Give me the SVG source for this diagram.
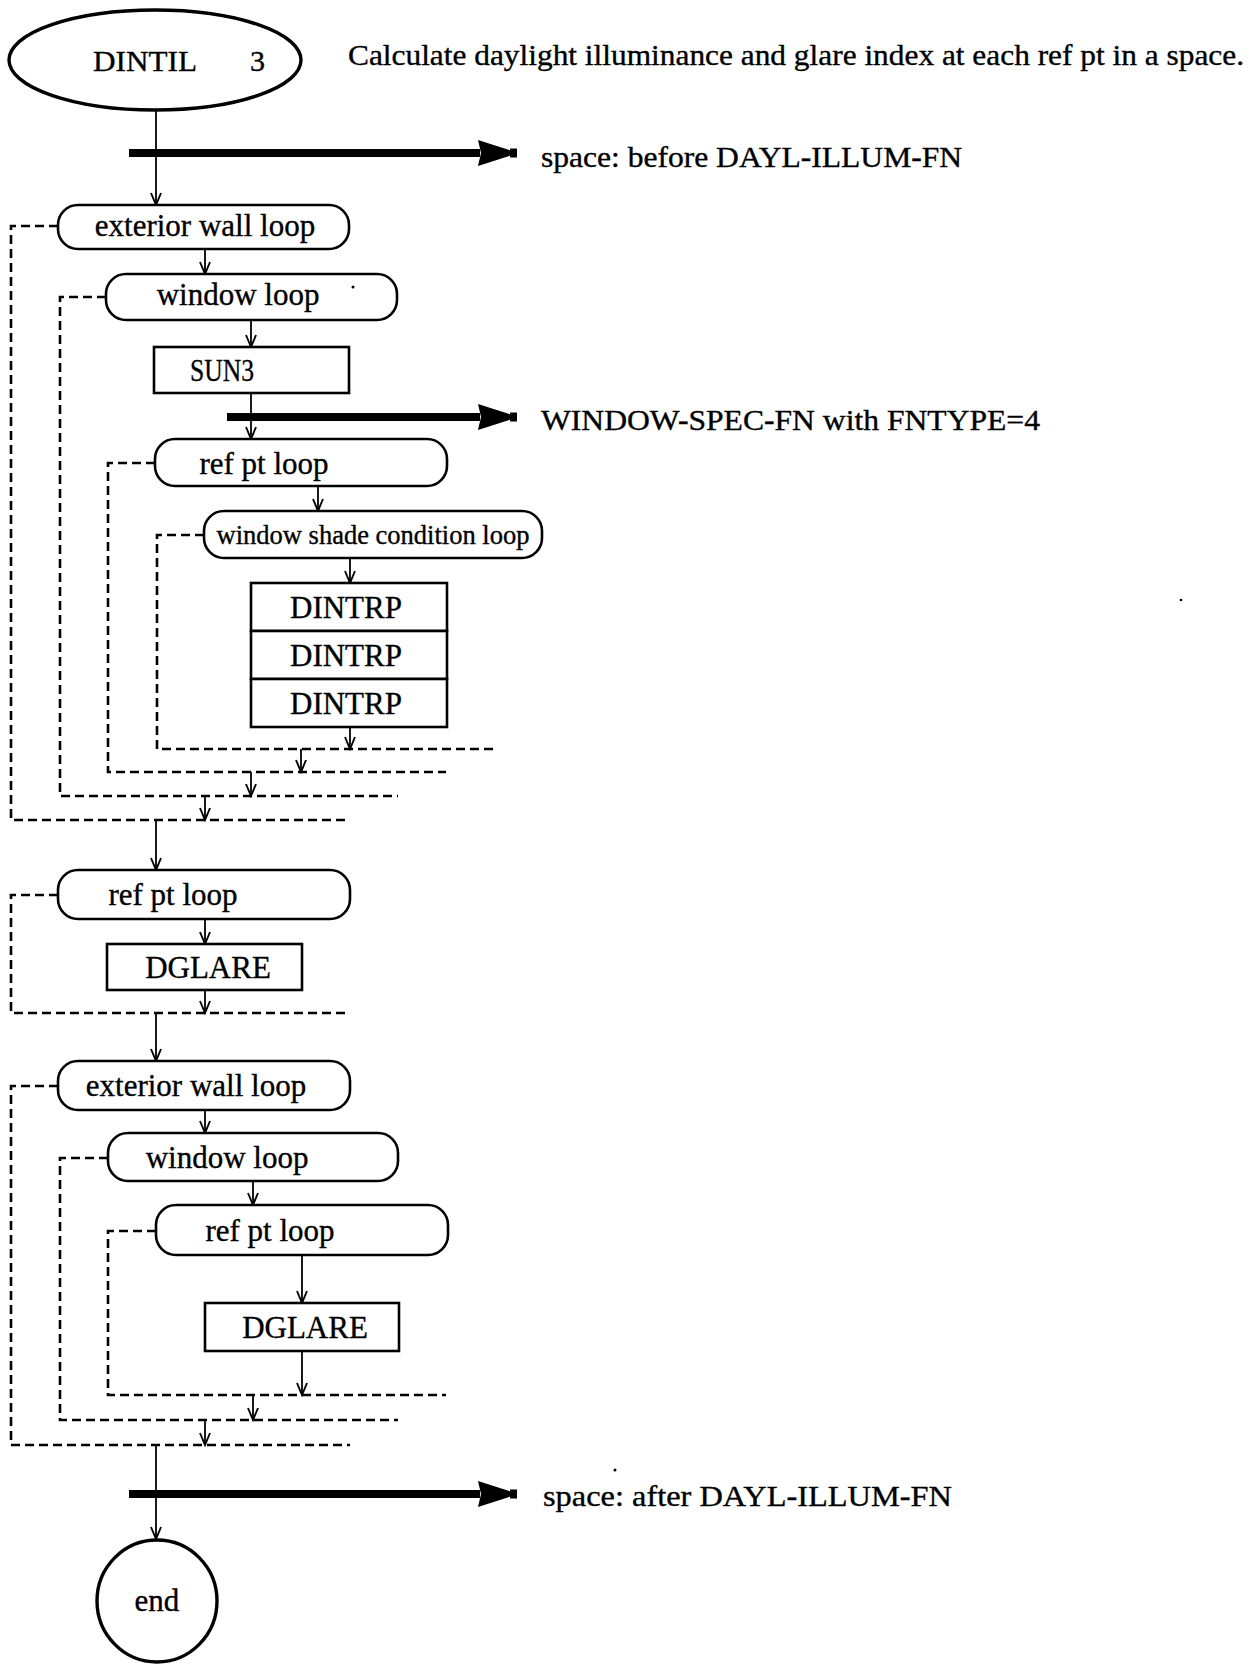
<svg xmlns="http://www.w3.org/2000/svg" width="1251" height="1664" viewBox="0 0 1251 1664">
<style>
text{font-family:"Liberation Serif","Times New Roman",serif;fill:#000;stroke:#000;stroke-width:0.35}
.lbl{font-size:31px;text-anchor:middle}
.sm{font-size:26.5px;text-anchor:middle}
.side{font-size:30px}
.node{fill:#fff;stroke:#000;stroke-width:2.6}
.term{fill:#fff;stroke:#000;stroke-width:3.4}
.dash{fill:none;stroke:#000;stroke-width:2.6;stroke-dasharray:9 5}
.flow{fill:none;stroke:#000;stroke-width:1.8}
.thick{fill:none;stroke:#000;stroke-width:8}
</style>
<defs>
<marker id="ah" viewBox="-14 -7 16 14" refX="0" refY="0" markerWidth="16" markerHeight="14" markerUnits="userSpaceOnUse" orient="auto">
<path d="M-12,-5 L0,0 L-12,5" fill="none" stroke="#000" stroke-width="1.9"/>
</marker>
<marker id="big" viewBox="0 -14 42 28" refX="2" refY="0" markerWidth="42" markerHeight="28" markerUnits="userSpaceOnUse" orient="auto">
<path d="M0,-13 L34,-2 L34,2 L0,13 L3,0 Z" fill="#000"/>
<rect x="32" y="-4.5" width="7" height="9" fill="#000"/>
</marker>
</defs>

<g id="connectors">
<path class="flow" d="M156,110 V205" marker-end="url(#ah)"/>
<path class="flow" d="M205,249 V274" marker-end="url(#ah)"/>
<path class="flow" d="M251,320 V347" marker-end="url(#ah)"/>
<path class="flow" d="M251,393 V439" marker-end="url(#ah)"/>
<path class="flow" d="M318,486 V511" marker-end="url(#ah)"/>
<path class="flow" d="M350,558 V583" marker-end="url(#ah)"/>
<path class="flow" d="M350,727 V749" marker-end="url(#ah)"/>
<path class="flow" d="M301,749 V772" marker-end="url(#ah)"/>
<path class="flow" d="M251,772 V796" marker-end="url(#ah)"/>
<path class="flow" d="M205,796 V820" marker-end="url(#ah)"/>
<path class="flow" d="M156,820 V870" marker-end="url(#ah)"/>
<path class="flow" d="M205,919 V944" marker-end="url(#ah)"/>
<path class="flow" d="M205,990 V1013" marker-end="url(#ah)"/>
<path class="flow" d="M156,1013 V1061" marker-end="url(#ah)"/>
<path class="flow" d="M205,1110 V1133" marker-end="url(#ah)"/>
<path class="flow" d="M253,1181 V1205" marker-end="url(#ah)"/>
<path class="flow" d="M302,1255 V1303" marker-end="url(#ah)"/>
<path class="flow" d="M302,1351 V1395" marker-end="url(#ah)"/>
<path class="flow" d="M253,1395 V1420" marker-end="url(#ah)"/>
<path class="flow" d="M205,1420 V1445" marker-end="url(#ah)"/>
<path class="flow" d="M156,1445 V1539" marker-end="url(#ah)"/>
<path class="dash" d="M58,226 H11 V820 H350"/>
<path class="dash" d="M106,297 H60 V796 H398"/>
<path class="dash" d="M155,463 H108 V772 H446"/>
<path class="dash" d="M204,535 H157 V749 H496"/>
<path class="dash" d="M58,895 H11 V1013 H350"/>
<path class="dash" d="M58,1086 H11 V1445 H350"/>
<path class="dash" d="M108,1158 H60 V1420 H398"/>
<path class="dash" d="M156,1231 H108 V1395 H446"/>
<path class="thick" d="M129,153 H480" marker-end="url(#big)"/>
<path class="thick" d="M227,417 H480" marker-end="url(#big)"/>
<path class="thick" d="M129,1494 H480" marker-end="url(#big)"/>
</g>

<g id="n-dintil">
<ellipse class="term" cx="155" cy="60" rx="146" ry="50"/>
<text class="side" x="93" y="71" textLength="104" lengthAdjust="spacingAndGlyphs">DINTIL</text>
<text class="side" x="250" y="71">3</text>
</g>
<g id="n-desc">
<text class="side" x="348" y="65" textLength="896" lengthAdjust="spacingAndGlyphs">Calculate daylight illuminance and glare index at each ref pt in a space.</text>
</g>
<g id="n-out1">
<text class="side" x="541" y="167" textLength="421" lengthAdjust="spacingAndGlyphs">space: before DAYL-ILLUM-FN</text>
</g>
<g id="n-extwall1">
<rect class="node" x="58" y="205" width="291" height="44" rx="20"/>
<text class="lbl" x="205" y="236">exterior wall loop</text>
</g>
<g id="n-window1">
<rect class="node" x="106" y="274" width="291" height="46" rx="20"/>
<text class="lbl" x="238" y="305">window loop</text>
</g>
<g id="n-sun3">
<rect class="node" x="154" y="347" width="195" height="46"/>
<text class="lbl" x="222" y="381" textLength="64" lengthAdjust="spacingAndGlyphs">SUN3</text>
</g>
<g id="n-out2">
<text class="side" x="541" y="430" textLength="499" lengthAdjust="spacingAndGlyphs">WINDOW-SPEC-FN with FNTYPE=4</text>
</g>
<g id="n-refpt1">
<rect class="node" x="155" y="439" width="292" height="47" rx="20"/>
<text class="lbl" x="264" y="474">ref pt loop</text>
</g>
<g id="n-shade">
<rect class="node" x="204" y="511" width="338" height="47" rx="20"/>
<text class="sm" x="373" y="544">window shade condition loop</text>
</g>
<g id="n-dintrp">
<rect class="node" x="251" y="583" width="196" height="48"/>
<rect class="node" x="251" y="631" width="196" height="48"/>
<rect class="node" x="251" y="679" width="196" height="48"/>
<text class="lbl" x="346" y="618">DINTRP</text>
<text class="lbl" x="346" y="666">DINTRP</text>
<text class="lbl" x="346" y="714">DINTRP</text>
</g>
<g id="n-refpt2">
<rect class="node" x="58" y="870" width="292" height="49" rx="20"/>
<text class="lbl" x="173" y="905">ref pt loop</text>
</g>
<g id="n-dglare1">
<rect class="node" x="107" y="944" width="195" height="46"/>
<text class="lbl" x="208" y="978">DGLARE</text>
</g>
<g id="n-extwall2">
<rect class="node" x="58" y="1061" width="292" height="49" rx="20"/>
<text class="lbl" x="196" y="1096">exterior wall loop</text>
</g>
<g id="n-window2">
<rect class="node" x="108" y="1133" width="290" height="48" rx="20"/>
<text class="lbl" x="227" y="1168">window loop</text>
</g>
<g id="n-refpt3">
<rect class="node" x="156" y="1205" width="292" height="50" rx="20"/>
<text class="lbl" x="270" y="1241">ref pt loop</text>
</g>
<g id="n-dglare2">
<rect class="node" x="205" y="1303" width="194" height="48"/>
<text class="lbl" x="305" y="1338">DGLARE</text>
</g>
<g id="n-out3">
<text class="side" x="543" y="1506" textLength="409" lengthAdjust="spacingAndGlyphs">space: after  DAYL-ILLUM-FN</text>
</g>
<g id="n-end">
<ellipse class="term" cx="157" cy="1601" rx="60" ry="61"/>
<text class="lbl" x="157" y="1611">end</text>
</g>
<g id="specks">
<circle cx="353" cy="287" r="1.5" fill="#000"/>
<circle cx="1181" cy="600" r="1.3" fill="#000"/>
<circle cx="615" cy="1470" r="1.5" fill="#000"/>
</g>
</svg>
